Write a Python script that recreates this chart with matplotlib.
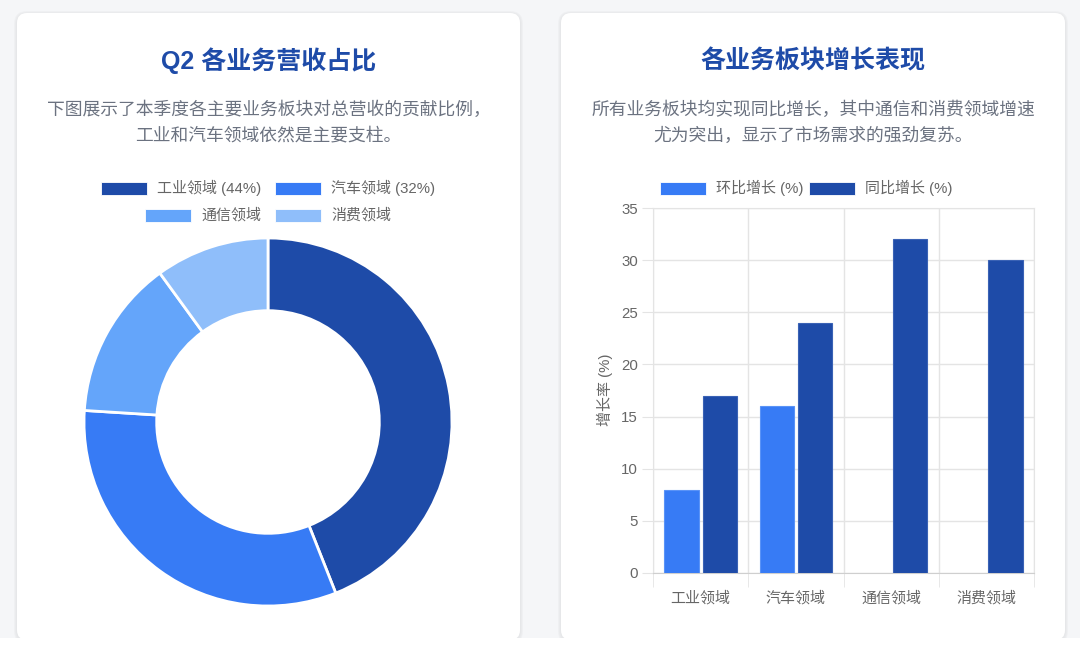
import numpy as np
import matplotlib
matplotlib.use("Agg")
import matplotlib.pyplot as plt
from matplotlib.patches import FancyBboxPatch, Rectangle

plt.rcParams['font.family'] = ['Liberation Sans', 'Noto Sans CJK SC', 'DejaVu Sans']

# ---- data ----
share_labels = ["工业领域", "汽车领域", "通信领域", "消费领域"]
share_legend = ["工业领域 (44%)", "汽车领域 (32%)", "通信领域", "消费领域"]
share_values = [44, 32, 14, 10]
share_colors = ["#1E4BA8", "#377BF5", "#64A5FA", "#8FBEFA"]

categories = ["工业领域", "汽车领域", "通信领域", "消费领域"]
qoq = [8, 16, np.nan, np.nan]      # 环比增长 (%)
yoy = [17, 24, 32, 30]             # 同比增长 (%)
series_names = ["环比增长 (%)", "同比增长 (%)"]
series_colors = ["#377BF5", "#1E4BA8"]

W, H = 1080, 648
TITLE_C = "#1E4BA8"
SUB_C = "#6B7280"
TICK_C = "#666666"
GRID_C = "#E4E4E4"

fig = plt.figure(figsize=(W / 100, H / 100), dpi=100)
fig.patch.set_facecolor("#F5F6F8")

# background layer in pixel coordinates
bg = fig.add_axes([0, 0, 1, 1], zorder=0)
bg.set_xlim(0, W); bg.set_ylim(H, 0); bg.axis("off")

def card(x0, y0, x1, y1):
    for i, a in enumerate([0.025, 0.02, 0.015]):
        p = 3 - i
        bg.add_patch(FancyBboxPatch((x0 - p, y0 - p + 1), x1 - x0 + 2 * p, y1 - y0 + 2 * p,
                                    boxstyle="round,pad=0,rounding_size=%d" % (10 + p),
                                    fc="black", ec="none", alpha=a))
    bg.add_patch(FancyBboxPatch((x0, y0), x1 - x0, y1 - y0,
                                boxstyle="round,pad=0,rounding_size=10",
                                fc="white", ec="none"))

card(17, 13, 520, 640)
card(561, 13, 1065, 640)
bg.add_patch(Rectangle((0, 638), W, 12, fc="white", ec="none"))

# ---- left card text ----
LX = 268.5
bg.text(LX, 61, "Q2 各业务营收占比", color=TITLE_C, fontsize=18, fontweight="bold",
        ha="center", va="center")
bg.text(LX, 110, "下图展示了本季度各主要业务板块对总营收的贡献比例，", color=SUB_C,
        fontsize=12.8, ha="center", va="center")
bg.text(LX, 136, "工业和汽车领域依然是主要支柱。", color=SUB_C,
        fontsize=12.8, ha="center", va="center")

def legend_item(x, y, color, label):
    bg.add_patch(Rectangle((x, y - 6.5), 46, 13, fc=color, ec="white", lw=0.6))
    bg.text(x + 56, y, label, color=TICK_C, fontsize=10.8, ha="left", va="center")

leg_pos = [(101, 188), (275, 188), (145, 215), (275, 215)]
for (x, y), c, lab in zip(leg_pos, share_colors, share_legend):
    legend_item(x, y, c, lab)

# ---- donut ----
cx, cy, r = 268, 422, 184
ax1 = fig.add_axes([(cx - r) / W, 1 - (cy + r) / H, 2 * r / W, 2 * r / H], zorder=2)
ax1.pie(share_values, colors=share_colors, startangle=90, counterclock=False,
        radius=1.0, wedgeprops=dict(width=0.395, edgecolor="white", linewidth=2))
ax1.set_xlim(-1.0, 1.0); ax1.set_ylim(-1.0, 1.0)
ax1.set_aspect("equal")
ax1.axis("off")

# ---- right card text ----
RX = 813
bg.text(RX, 61, "各业务板块增长表现", color=TITLE_C, fontsize=18, fontweight="bold",
        ha="center", va="center")
bg.text(RX, 110, "所有业务板块均实现同比增长，其中通信和消费领域增速", color=SUB_C,
        fontsize=12.8, ha="center", va="center")
bg.text(RX, 136, "尤为突出，显示了市场需求的强劲复苏。", color=SUB_C,
        fontsize=12.8, ha="center", va="center")

for (x, y), c, lab in zip([(660, 188), (809, 188)], series_colors, series_names):
    legend_item(x, y, c, lab)

# ---- bar chart ----
x0, x1, y0, y1 = 653, 1034, 208, 573
ax2 = fig.add_axes([x0 / W, 1 - y1 / H, (x1 - x0) / W, (y1 - y0) / H], zorder=2)
ax2.set_facecolor("none")
xs = np.arange(len(categories))
bw = 0.36
ax2.bar(xs - 0.2, qoq, width=bw, color=series_colors[0], edgecolor="#5A93F7",
        linewidth=0.8, zorder=3)
ax2.bar(xs + 0.2, yoy, width=bw, color=series_colors[1], edgecolor="#3A62B5",
        linewidth=0.8, zorder=3)
ax2.set_xlim(-0.5, 3.5)
ax2.set_ylim(0, 35)
ax2.set_yticks(np.arange(0, 36, 5))
ax2.set_xticks(xs)
ax2.set_xticklabels(categories)
ax2.set_xticks(np.arange(-0.5, 4, 1), minor=True)
ax2.tick_params(axis="y", length=8, color=GRID_C, labelcolor=TICK_C, labelsize=10.8, pad=3)
ax2.tick_params(axis="x", which="major", length=0, labelcolor=TICK_C, labelsize=10.8, pad=13)
ax2.tick_params(axis="x", which="minor", length=10, color=GRID_C)
ax2.grid(axis="y", which="major", color=GRID_C, lw=1, zorder=0)
ax2.grid(axis="x", which="minor", color=GRID_C, lw=1, zorder=0)
for s in ["top", "right", "left"]:
    ax2.spines[s].set_color(GRID_C)
ax2.spines["bottom"].set_color("#CFCFCF")
ax2.set_axisbelow(True)

bg.text(605, 390, "增长率 (%)", color=TICK_C, fontsize=10.8, rotation=90,
        ha="center", va="center")

fig.savefig("out.png", dpi=100, facecolor=fig.get_facecolor())
